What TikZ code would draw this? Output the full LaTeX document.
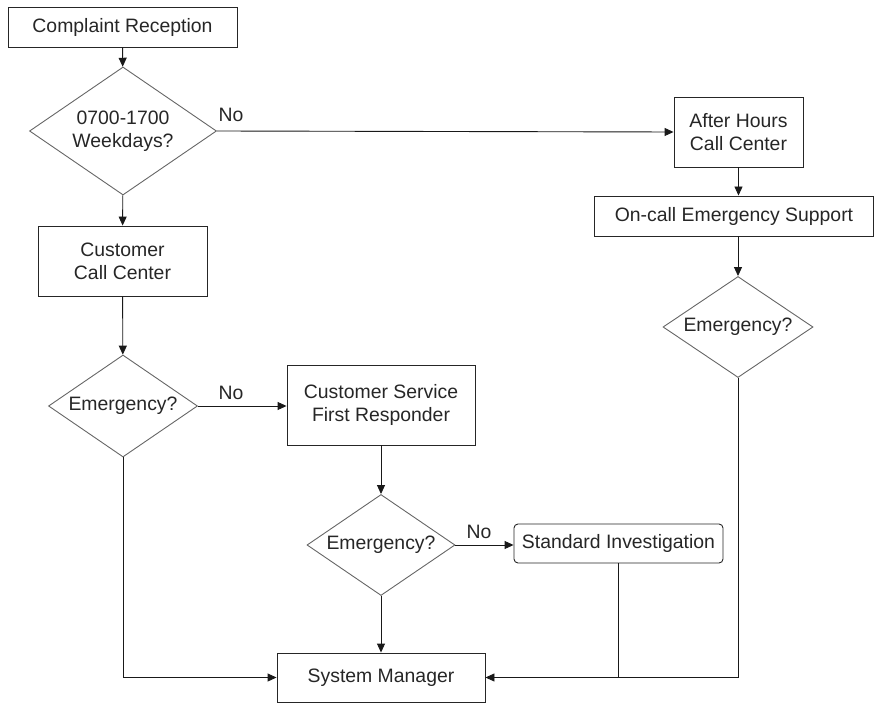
\documentclass[tikz,border=0pt]{standalone}
\usepackage{fontspec}
\setmainfont{Liberation Sans}
\usetikzlibrary{shapes.geometric,arrows.meta}
\begin{document}
\begin{tikzpicture}
		[x=1pt,y=-1pt,
			every node/.style={font=\fontsize{19.4}{23}\selectfont,text=black!85},
			procbox/.style={rectangle,draw=black!85,line width=0.9pt,align=center,inner sep=0pt},
			decision/.style={diamond,draw=black!60,line width=0.9pt,align=center,inner sep=0pt,aspect=1.46},
			flow/.style={draw=black!90,line width=0.9pt,-{Triangle[length=9pt,width=8pt]}},
			nolabel/.style={inner sep=0pt}]
		\useasboundingbox (0,0) rectangle (875,703);
		% left column
		\node[procbox,name=rec,minimum width=229,minimum height=40] at (122.5,27) {Complaint Reception};
		\node[decision,name=q1,minimum width=187,minimum height=128] at (123,131) {0700-1700\\Weekdays?};
		\node[procbox,name=ccc,minimum width=169,minimum height=70] at (122.5,261) {Customer\\Call Center};
		\node[decision,name=e1,minimum width=149,minimum height=102] at (123,406) {Emergency?};
		% middle column
		\node[procbox,name=csfr,minimum width=188,minimum height=80] at (381,405) {Customer Service\\First Responder};
		\node[decision,name=e2,minimum width=148,minimum height=101] at (381,545) {Emergency?};
		\node[procbox,name=si,rounded corners=4pt,minimum width=209,minimum height=39] at (618.5,543.5) {Standard Investigation};
		\node[procbox,name=sm,minimum width=208,minimum height=49] at (381,677.5) {System Manager};
		% right column
		\node[procbox,name=ahcc,minimum width=129,minimum height=70] at (738.5,132) {After Hours\\Call Center};
		\node[procbox,name=ocs,minimum width=279,minimum height=40] at (734,216) {On-call Emergency Support};
		\node[decision,name=e3,minimum width=150,minimum height=101] at (738,327) {Emergency?};
		% labels
		\node[nolabel,name=no1] at (231,115) {No};
		\node[nolabel,name=no2] at (231,393) {No};
		\node[nolabel,name=no3] at (479,532) {No};
		% connectors
		\draw[flow] (rec) -- (q1);
		\draw[flow] (q1) -- (ccc);
		\draw[flow] (q1.east) -- (ahcc.west);
		\draw[flow] (ahcc.south) -- (ahcc.south |- ocs.north);
		\draw[flow] (e3.north |- ocs.south) -- (e3.north);
		\draw[flow] (ccc) -- (e1);
		\draw[flow] (e1.east) -- (csfr.west |- e1.east);
		\draw[flow] (csfr) -- (e2);
		\draw[flow] (e2.east) -- (si.west |- e2.east);
		\draw[flow] (e2) -- (sm);
		\draw[flow] (e1.south) |- (sm.west);
		\draw[flow] (e3.south) |- (sm.east);
		\draw[draw=black!90,line width=0.9pt] (si.south) -- (si.south |- sm.east);
\end{tikzpicture}
\end{document}
